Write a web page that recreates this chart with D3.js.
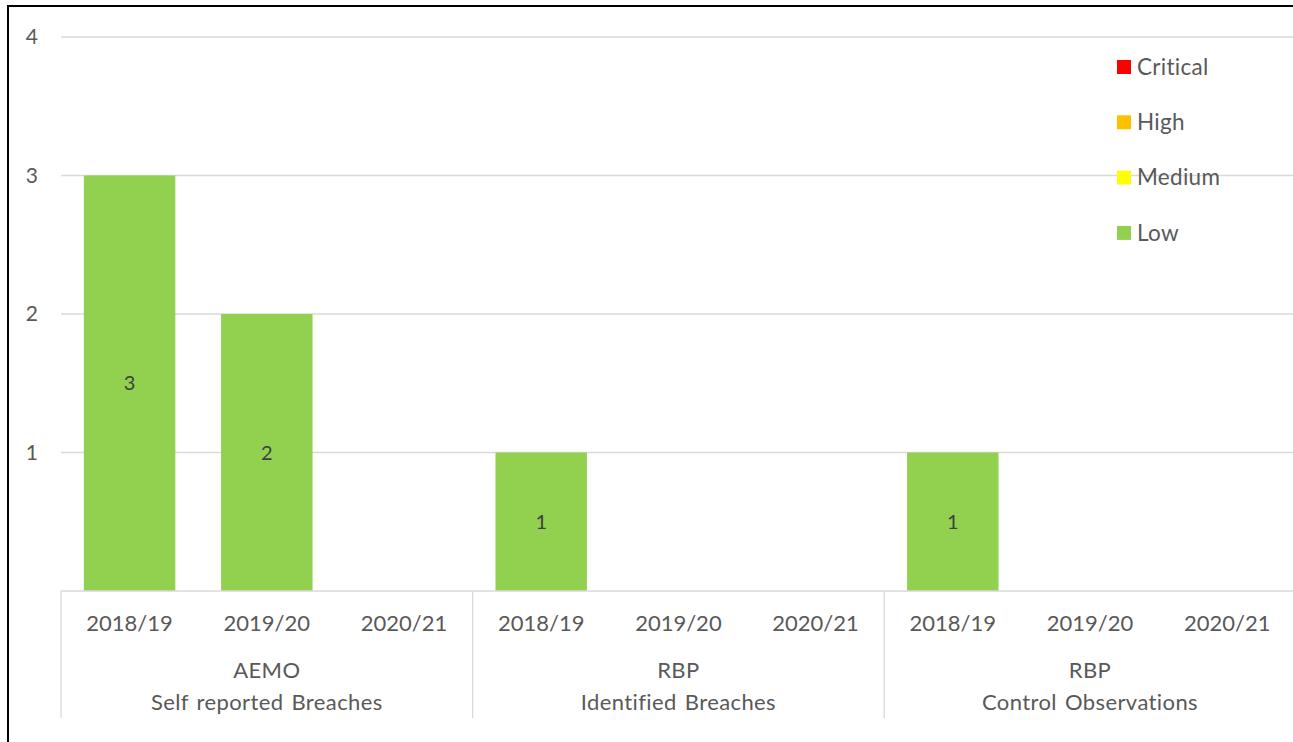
<!DOCTYPE html>
<html>
<head>
<meta charset="utf-8">
<script src="https://cdn.jsdelivr.net/npm/d3@7"></script>
<style>
  body { margin: 0; background: #fff; }
  text { font-family: Lato, "Open Sans", sans-serif; fill: #595959; }
</style>
</head>
<body>
<div id="chart"></div>
<script>
const groups = ["AEMO|Self reported Breaches", "RBP|Identified Breaches", "RBP|Control Observations"]
const years = ["2018/19", "2019/20", "2020/21"]
const severities = ["Critical", "High", "Medium", "Low"]
const colors = ["#FF0000", "#FFC000", "#FFFF00", "#92D050"]
// one value per group/year, in order
const critical = [0, 0, 0, 0, 0, 0, 0, 0, 0]
const high = [0, 0, 0, 0, 0, 0, 0, 0, 0]
const medium = [0, 0, 0, 0, 0, 0, 0, 0, 0]
const low = [3, 2, 0, 1, 0, 0, 1, 0, 0]
const yTicks = [1, 2, 3, 4]

const width = 1293, height = 742

const svg = d3.select('#chart').append('svg')
    .attr('width', width)
    .attr('height', height)

// outer frame (only top and left visible)
svg.append('path')
    .attr('d', `M8,${height} L8,6 L${width},6`)
    .style('stroke', '#000')
    .style('stroke-width', 2)
    .style('fill', 'none')

/*
 * data table
 */
const data = []
groups.forEach((g, gi) => {
    years.forEach((y, yi) => {
        const i = gi * 3 + yi
        data.push({ key: g + '#' + y, group: g, year: y,
            Critical: critical[i], High: high[i], Medium: medium[i], Low: low[i] })
    })
})

const plotLeft = 61, plotRight = 61 + 9 * 137.2
const xScale = d3.scaleBand()
    .domain(data.map(d => d.key))
    .range([plotLeft, plotRight])
    .paddingInner(1 / 3)
    .paddingOuter(1 / 6)

const yScale = d3.scaleLinear()
    .domain([0, 4])
    .range([591, 37])

// gridlines
svg.append('g')
    .selectAll('line')
    .data(yTicks)
    .join('line')
    .attr('x1', plotLeft)
    .attr('x2', width)
    .attr('y1', d => yScale(d))
    .attr('y2', d => yScale(d))
    .style('stroke', '#d9d9d9')
    .style('stroke-width', 1.3)

// y axis labels
svg.append('g')
    .selectAll('text')
    .data(yTicks)
    .join('text')
    .attr('x', 38)
    .attr('y', d => yScale(d))
    .attr('dy', '0.35em')
    .attr('text-anchor', 'end')
    .style('font-size', '21px')
    .text(d => d)

/*
 * stacked bars
 */
const stack = d3.stack().keys(severities)
const series = stack(data)

svg.append('g')
    .selectAll('g')
    .data(series)
    .join('g')
    .style('fill', (d, i) => colors[i])
    .selectAll('rect')
    .data(d => d)
    .join('rect')
    .attr('x', d => xScale(d.data.key))
    .attr('width', xScale.bandwidth())
    .attr('y', d => yScale(d[1]))
    .attr('height', d => yScale(d[0]) - yScale(d[1]))

// data labels on non-zero segments
series.forEach(s => {
    svg.append('g')
        .selectAll('text')
        .data(s.filter(d => d[1] - d[0] > 0))
        .join('text')
        .attr('x', d => xScale(d.data.key) + xScale.bandwidth() / 2)
        .attr('y', d => yScale((d[0] + d[1]) / 2))
        .attr('dy', '0.35em')
        .attr('text-anchor', 'middle')
        .style('font-size', '20px')
        .style('fill', '#404040')
        .text(d => d[1] - d[0])
})

/*
 * x axis: baseline, year labels, group labels, separators
 */
const axisY = yScale(0)
svg.append('line')
    .attr('x1', plotLeft).attr('x2', width)
    .attr('y1', axisY).attr('y2', axisY)
    .style('stroke', '#d9d9d9')
    .style('stroke-width', 1.3)

const step = xScale.step()
svg.append('g')
    .selectAll('line')
    .data(d3.range(groups.length + 1))
    .join('line')
    .attr('x1', i => plotLeft + i * 3 * step)
    .attr('x2', i => plotLeft + i * 3 * step)
    .attr('y1', axisY)
    .attr('y2', 718)
    .style('stroke', '#d9d9d9')
    .style('stroke-width', 1.3)

svg.append('g')
    .selectAll('text')
    .data(data)
    .join('text')
    .attr('x', d => xScale(d.key) + xScale.bandwidth() / 2)
    .attr('y', 631)
    .attr('text-anchor', 'middle')
    .style('font-size', '22px')
    .text(d => d.year)

groups.forEach((g, gi) => {
    const cx = plotLeft + (gi + 0.5) * 3 * step
    const parts = g.split('|')
    parts.forEach((p, pi) => {
        svg.append('text')
            .attr('x', cx)
            .attr('y', 678 + pi * 32)
            .attr('text-anchor', 'middle')
            .style('font-size', '22px')
            .style('letter-spacing', '0.4px')
            .style('word-spacing', '2px')
            .text(p)
    })
})

/*
 * legend
 */
const legend = svg.append('g')
    .selectAll('g')
    .data(severities)
    .join('g')
    .attr('transform', (d, i) => `translate(1117, ${67 + i * 55.3})`)

legend.append('rect')
    .attr('x', 0)
    .attr('y', -7)
    .attr('width', 14)
    .attr('height', 14)
    .style('fill', (d, i) => colors[i])

legend.append('text')
    .attr('x', 20)
    .attr('y', 0)
    .attr('dy', '0.35em')
    .style('font-size', '22.5px')
    .style('letter-spacing', '0.3px')
    .text(d => d)
</script>
</body>
</html>
